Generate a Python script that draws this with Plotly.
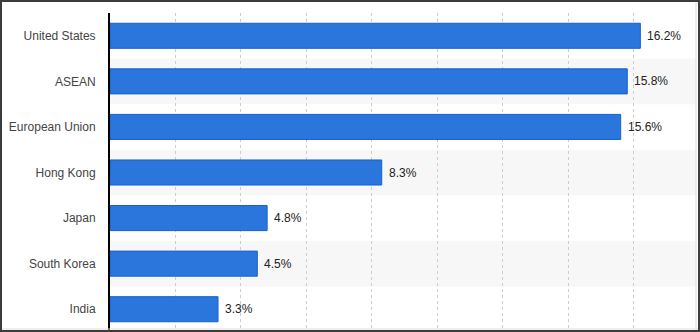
import plotly.graph_objects as go

categories = ["United States", "ASEAN", "European Union", "Hong Kong", "Japan", "South Korea", "India"]
values = [16.2, 15.8, 15.6, 8.3, 4.8, 4.5, 3.3]

W, H = 700, 332
ML, MR, MT, MB = 110, 4, 13, 0
PW, PH = W - ML - MR, H - MT - MB
FONT = "Liberation Sans"

fig = go.Figure()
fig.add_trace(go.Bar(
    x=values, y=categories, orientation="h",
    marker=dict(color="#2a76dd", line=dict(color="#1560d2", width=1)),
    cliponaxis=False, width=0.55, hoverinfo="x+y",
))

annotations = []
for c, v in zip(categories, values):
    annotations.append(dict(x=v, y=c, xref="x", yref="y", text=f"{v:.1f}%",
                            showarrow=False, xanchor="left", xshift=5,
                            font=dict(family=FONT, size=12, color="#222")))

shapes = []
for i, c in enumerate(categories):
    if i % 2 == 1:
        shapes.append(dict(type="rect", xref="paper", yref="y", x0=0, x1=1,
                           y0=i - 0.5, y1=i + 0.5, fillcolor="#f7f7f7",
                           line=dict(width=0), layer="below"))

def px(x):
    return (x - ML) / PW

def py(y):
    return 1 - (y - MT) / PH

shapes.append(dict(type="line", xref="paper", yref="paper", x0=px(696), x1=px(696),
                   y0=py(0), y1=py(H), line=dict(color="#dddddd", width=1), layer="above"))
shapes.append(dict(type="line", xref="paper", yref="paper", x0=px(0), x1=px(W),
                   y0=py(329), y1=py(329), line=dict(color="#dddddd", width=1), layer="above"))
shapes.append(dict(type="rect", xref="paper", yref="paper", x0=px(1), x1=px(W - 1),
                   y0=py(1), y1=py(H - 1), line=dict(color="#3c3c3c", width=2),
                   fillcolor="rgba(0,0,0,0)", layer="above"))

fig.update_layout(
    width=W, height=H,
    margin=dict(l=ML, r=MR, t=MT, b=MB),
    paper_bgcolor="white", plot_bgcolor="white",
    showlegend=False, shapes=shapes, annotations=annotations,
    font=dict(family=FONT, size=12, color="#444"),
    xaxis=dict(range=[0, 17.9], dtick=2, showgrid=True, gridcolor="#cccccc",
               griddash="dot", gridwidth=1, zeroline=False, showticklabels=False,
               fixedrange=True),
    yaxis=dict(categoryorder="array", categoryarray=categories, range=[6.5, -0.5],
               showline=True, linecolor="#000000", linewidth=2, showgrid=False,
               ticks="outside", ticklen=10, tickcolor="rgba(0,0,0,0)",
               tickfont=dict(family=FONT, size=12, color="#444")),
)

fig.write_html("out.html")
